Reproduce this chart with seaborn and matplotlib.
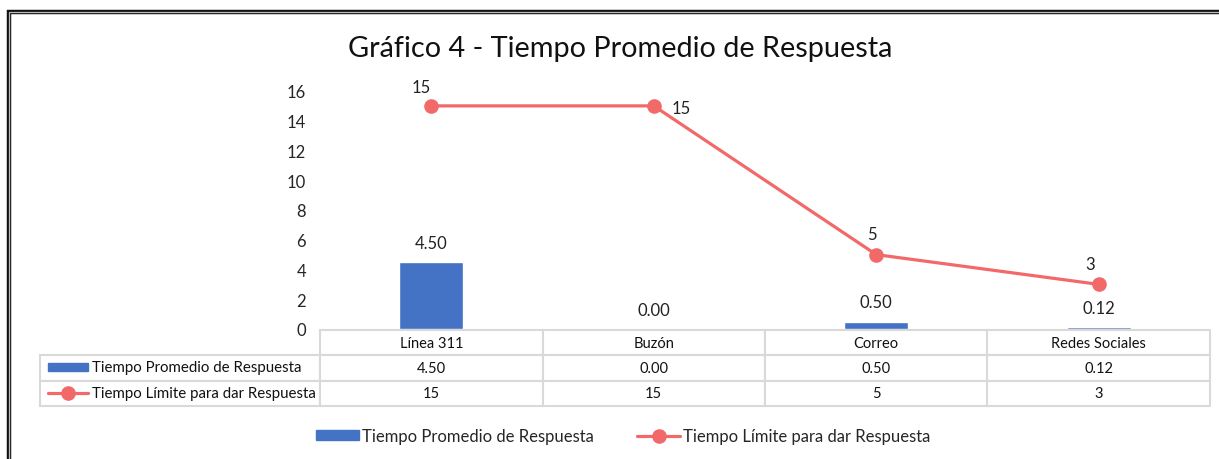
import matplotlib
matplotlib.use("Agg")
import matplotlib.pyplot as plt
import seaborn as sns
import pandas as pd
from matplotlib.patches import Rectangle
from matplotlib.lines import Line2D

categories = ["Línea 311", "Buzón", "Correo", "Redes Sociales"]
promedio = [4.50, 0.00, 0.50, 0.12]
limite = [15, 15, 5, 3]
promedio_labels = ["4.50", "0.00", "0.50", "0.12"]
limite_labels = ["15", "15", "5", "3"]
serie_bar = "Tiempo Promedio de Respuesta"
serie_line = "Tiempo Límite para dar Respuesta"
title = "Gráfico 4 - Tiempo Promedio de Respuesta"
yticks = [0, 2, 4, 6, 8, 10, 12, 14, 16]

BAR_C = "#4472C4"
LINE_C = "#F26969"
GRID_C = "#D9D9D9"

sns.set_theme(style="white")
plt.rcParams['font.family'] = ['Lato', 'DejaVu Sans']

W, H = 1219, 460
fig = plt.figure(figsize=(W / 100, H / 100), dpi=100)
ax = fig.add_axes([320 / W, 1 - 330 / H, 890 / W, 238 / H])

df = pd.DataFrame({"cat": categories, "prom": promedio, "lim": limite})
sns.barplot(data=df, x="cat", y="prom", color=BAR_C, width=0.286, ax=ax,
            saturation=1, order=categories)
ax.plot(range(len(categories)), limite, color=LINE_C, lw=2.3, marker="o",
        markersize=9.5, zorder=5, clip_on=False)

ax.set_ylim(0, 16)
ax.set_xlim(-0.5, len(categories) - 0.5)
ax.set_yticks(yticks)
ax.set_yticklabels([str(t) for t in yticks], fontsize=12)
ax.tick_params(axis="y", length=0, pad=10)
ax.set_xticks([])
ax.set_xlabel("")
ax.set_ylabel("")
for s in ax.spines.values():
    s.set_visible(False)

# data labels
for i, (v, lab) in enumerate(zip(promedio, promedio_labels)):
    ax.annotate(lab, (i, v), xytext=(0, 8), textcoords="offset points",
                ha="center", va="bottom", fontsize=12, color="#222222")
line_offsets = [(-7, 8), (20, -7), (-3, 9), (-6, 9)]
for i, (v, lab) in enumerate(zip(limite, limite_labels)):
    dx, dy = line_offsets[i]
    ax.annotate(lab, (i, v), xytext=(dx, dy), textcoords="offset points",
                ha="center", va="bottom", fontsize=12, color="#222222")

# title
fig.text(620 / W, 1 - 49 / H, title, ha="center", va="center", fontsize=20.8,
         color="#111111")

# data table (Excel-style)
cell_text = [["", *categories],
             ["", *promedio_labels],
             ["", *limite_labels]]
first_w = 280
col_w = 222.5
total_w = first_w + col_w * len(categories)
col_widths = [first_w / total_w] + [col_w / total_w] * len(categories)
tbl_left = (40 - 320) / 890
tbl_bottom = (330 - 407) / 238
tbl_height = (407 - 331) / 238
tbl = ax.table(cellText=cell_text, colWidths=col_widths, cellLoc="center",
               bbox=[tbl_left, tbl_bottom, total_w / 890, tbl_height])
tbl.auto_set_font_size(False)
tbl.set_fontsize(10.5)
for (r, c), cell in tbl.get_celld().items():
    cell.set_edgecolor(GRID_C)
    cell.set_linewidth(1.5)
    cell.get_text().set_color("#111111")
tbl[0, 0].visible_edges = ""

# legend keys inside the table's first column
row_y = [1 - 368 / H, 1 - 394 / H]
fig.text(92 / W, row_y[0], serie_bar, ha="left", va="center", fontsize=10.8,
         color="#111111")
fig.text(92 / W, row_y[1], serie_line, ha="left", va="center", fontsize=10.8,
         color="#111111")
fig.patches.append(Rectangle((48 / W, row_y[0] - 4 / H), 40 / W, 8 / H,
                             transform=fig.transFigure, color=BAR_C))
fig.lines.append(Line2D([48 / W, 88 / W], [row_y[1], row_y[1]],
                        transform=fig.transFigure, color=LINE_C, lw=2.3))
fig.lines.append(Line2D([68 / W], [row_y[1]], transform=fig.transFigure,
                        color=LINE_C, marker="o", markersize=9.5, lw=0))

# bottom legend
handles = [Rectangle((0, 0), 1, 1, color=BAR_C),
           Line2D([0], [0], color=LINE_C, lw=2.3, marker="o", markersize=9.5)]
fig.legend(handles, [serie_bar, serie_line], loc="center",
           bbox_to_anchor=(623 / W, 1 - 437 / H), ncol=2, frameon=False,
           fontsize=12, handlelength=2.6, handleheight=0.55,
           handletextpad=0.15, columnspacing=2.6)

# double frame border
fig.patches.append(Rectangle((8.5 / W, -0.05), 1.1, 1 - 12.5 / H + 0.05,
                             transform=fig.transFigure, fill=False,
                             edgecolor="#111111", lw=3.2))
fig.patches.append(Rectangle((8.5 / W, -0.05), 1.1, 1 - 12.5 / H + 0.05,
                             transform=fig.transFigure, fill=False,
                             edgecolor="#BBBBBB", lw=0.9))

fig.savefig("out.png", dpi=100, facecolor="white")
